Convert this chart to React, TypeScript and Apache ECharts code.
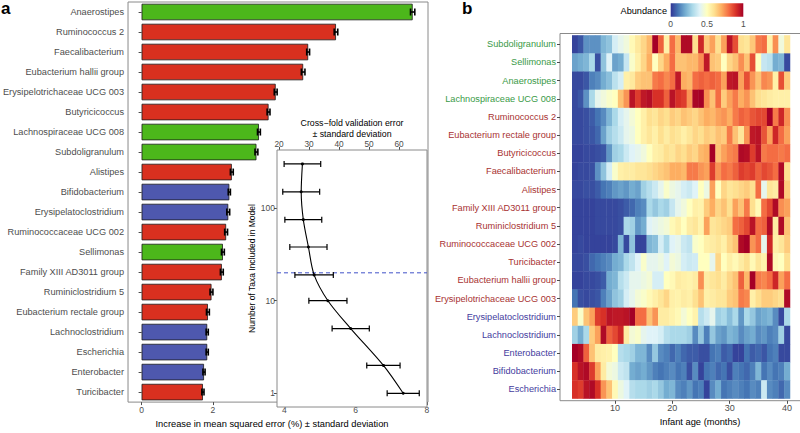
import React, { useEffect, useRef } from 'react';
import * as echarts from 'echarts';

const FONT = '"Liberation Sans", Arial, Helvetica, sans-serif';

// ---------- Panel a: variable importance ----------
const taxaBar = [
  'Anaerostipes', 'Ruminococcus 2', 'Faecalibacterium', 'Eubacterium hallii group',
  'Erysipelotrichaceae UCG 003', 'Butyricicoccus', 'Lachnospiraceae UCG 008', 'Subdoligranulum',
  'Alistipes', 'Bifidobacterium', 'Erysipelatoclostridium', 'Ruminococcaceae UCG 002',
  'Sellimonas', 'Family XIII AD3011 group', 'Ruminiclostridium 5', 'Eubacterium rectale group',
  'Lachnoclostridium', 'Escherichia', 'Enterobacter', 'Turicibacter',
];
const importance = [7.6, 5.45, 4.67, 4.53, 3.76, 3.56, 3.29, 3.22, 2.53, 2.46, 2.43, 2.37, 2.28, 2.25, 1.96, 1.86, 1.84, 1.84, 1.75, 1.72];
const importanceSd = [0.06, 0.05, 0.04, 0.05, 0.04, 0.04, 0.04, 0.04, 0.04, 0.03, 0.04, 0.04, 0.04, 0.04, 0.04, 0.04, 0.03, 0.03, 0.03, 0.03];
const barGroup = ['g', 'r', 'r', 'r', 'r', 'r', 'g', 'g', 'r', 'b', 'b', 'r', 'g', 'r', 'r', 'r', 'b', 'b', 'b', 'r'];
const barTicks = [0, 2, 4, 6, 8];

// ---------- Inset: cross-validation ----------
const nTaxa = [300, 150, 75, 38, 19, 10, 5, 2, 1];
const cvError = [27.8, 27.4, 28.1, 29.8, 31.7, 36.3, 43.9, 54.8, 61.4];
const cvErrorSd = [6.1, 6.15, 6.15, 6.2, 6.4, 6.35, 6.2, 5.55, 5.35];
const cvTicks = [20, 30, 40, 50, 60];
const taxaTicks = [1, 10, 100];
const selectedTaxa = 20;
const cvRange = [19.33, 69.33];

// ---------- Panel b: heatmap ----------
const heatTaxa = [
  'Subdoligranulum', 'Sellimonas', 'Anaerostipes', 'Lachnospiraceae UCG 008', 'Ruminococcus 2',
  'Eubacterium rectale group', 'Butyricicoccus', 'Faecalibacterium', 'Alistipes', 'Family XIII AD3011 group',
  'Ruminiclostridium 5', 'Ruminococcaceae UCG 002', 'Turicibacter', 'Eubacterium hallii group',
  'Erysipelotrichaceae UCG 003', 'Erysipelatoclostridium', 'Lachnoclostridium', 'Enterobacter',
  'Bifidobacterium', 'Escherichia',
];
const heatGroup = ['g', 'g', 'g', 'g', 'r', 'r', 'r', 'r', 'r', 'r', 'r', 'r', 'r', 'r', 'r', 'b', 'b', 'b', 'b', 'b'];
const months = [3, 4, 5, 6, 7, 8, 9, 10, 11, 12, 13, 14, 15, 16, 17, 18, 19, 20, 21, 22, 23, 24, 25, 26, 27, 28, 29, 30, 31, 32, 33, 34, 35, 36, 37, 38, 39, 40];
const ageTicks = [10, 20, 30, 40];
const abundance = [
  [0.02,0.05,0.15,0.15,0.15,0.22,0.25,0.38,0.42,0.45,0.52,0.57,0.62,0.68,1.0,0.82,0.55,0.8,0.68,0.98,0.98,0.6,0.92,0.65,0.72,0.6,0.72,0.96,0.85,0.6,0.58,0.65,0.78,0.8,0.55,0.75,0.45,0.58],
  [0.18,0.2,0.22,0.3,0.04,0.25,0.4,0.18,0.2,0.35,0.48,0.55,0.62,0.7,0.5,0.62,0.7,0.8,0.66,0.66,0.68,0.68,0.75,0.95,0.66,0.64,0.5,0.62,0.66,0.75,0.66,0.85,0.5,0.35,0.33,0.2,0.22,0.03],
  [0.03,0.03,0.05,0.12,0.14,0.2,0.24,0.33,0.38,0.55,0.57,0.64,0.66,0.66,0.78,0.8,0.76,0.8,0.95,0.7,0.68,0.8,0.82,0.8,0.82,0.8,0.72,0.95,0.96,0.72,0.85,0.74,0.66,0.76,0.74,0.55,0.85,0.64],
  [0.03,0.05,0.15,0.3,0.42,0.45,0.48,0.5,0.66,0.74,0.96,0.88,0.95,0.97,0.9,0.9,0.82,0.96,0.9,0.88,0.74,0.99,1.0,0.75,0.66,0.8,0.64,0.72,0.78,0.7,0.74,0.66,0.6,0.58,0.56,0.55,0.55,0.55],
  [0.03,0.03,0.04,0.06,0.1,0.14,0.22,0.3,0.38,0.42,0.46,0.5,0.55,0.6,0.58,0.62,0.6,0.64,0.62,0.66,0.64,0.62,0.66,0.7,0.68,0.72,0.74,0.7,0.78,0.82,0.8,0.84,0.86,0.86,1.0,0.78,0.92,0.75],
  [0.03,0.03,0.04,0.05,0.08,0.18,0.28,0.32,0.36,0.42,0.44,0.5,0.55,0.58,0.55,0.6,0.56,0.6,0.58,0.55,0.58,0.62,0.6,0.64,0.62,0.66,0.64,0.78,0.66,0.58,0.74,0.95,0.96,0.84,0.72,0.92,0.8,0.72],
  [0.02,0.02,0.03,0.03,0.04,0.05,0.16,0.28,0.3,0.36,0.4,0.42,0.45,0.5,0.55,0.56,0.6,0.58,0.62,0.6,0.64,0.62,0.68,0.7,1.0,0.66,0.72,0.76,0.78,0.98,0.97,0.88,0.96,0.78,0.8,0.8,0.78,0.8],
  [0.02,0.03,0.03,0.04,0.15,0.25,0.38,0.48,0.55,0.56,0.56,0.58,0.58,0.6,0.62,0.64,0.66,0.7,0.7,0.68,0.78,0.78,0.74,0.72,0.88,0.74,0.8,0.78,0.82,0.88,0.86,0.88,0.82,0.86,0.84,0.8,0.98,0.6],
  [0.03,0.03,0.04,0.04,0.06,0.1,0.12,0.16,0.18,0.16,0.2,0.18,0.28,0.32,0.36,0.42,0.48,0.44,0.42,0.38,0.36,0.4,0.5,0.44,0.72,0.5,0.62,0.58,0.6,0.62,0.64,0.6,0.8,0.42,0.58,0.56,0.98,0.64],
  [0.02,0.02,0.02,0.02,0.03,0.03,0.03,0.03,0.04,0.06,0.08,0.12,0.14,0.3,0.26,0.3,0.28,0.35,0.42,0.45,0.5,0.55,0.54,0.64,0.7,0.62,0.66,0.6,0.72,0.66,0.78,0.6,0.52,0.8,0.86,0.98,0.75,0.72],
  [0.02,0.02,0.02,0.02,0.03,0.03,0.03,0.03,0.04,0.3,0.28,0.16,0.2,0.4,0.42,0.44,0.46,0.52,0.55,0.5,0.56,0.58,0.54,0.72,0.58,0.6,0.62,0.64,0.8,0.82,0.86,0.96,0.8,0.82,0.98,0.56,0.98,0.66],
  [0.02,0.03,0.02,0.02,0.02,0.02,0.02,0.03,0.22,0.03,0.25,0.02,0.02,0.22,0.24,0.38,0.3,0.4,0.42,0.36,0.34,0.48,0.5,0.55,0.56,0.58,0.55,0.62,0.66,0.98,1.0,0.74,0.8,0.42,0.92,0.55,0.58,0.64],
  [0.03,0.03,0.04,0.08,0.1,0.12,0.14,0.2,0.22,0.3,0.34,0.4,0.48,0.42,0.42,0.44,0.4,0.46,0.44,0.38,0.36,0.37,0.5,0.5,0.42,0.62,0.5,0.55,0.52,0.56,0.6,0.52,0.58,0.54,0.98,0.52,0.5,0.6],
  [0.02,0.02,0.03,0.03,0.04,0.06,0.2,0.22,0.32,0.36,0.42,0.42,0.44,0.46,0.38,0.38,0.5,0.52,0.56,0.55,0.54,0.56,0.75,0.56,0.58,0.6,0.56,0.62,0.66,0.82,0.68,1.0,0.78,0.76,0.8,0.92,0.72,0.8],
  [0.1,0.04,0.03,0.04,0.05,0.12,0.18,0.25,0.28,0.38,0.42,0.46,0.48,0.52,0.55,0.58,0.62,0.55,0.54,0.56,0.55,0.6,0.66,0.55,0.56,0.58,0.58,0.64,0.66,0.78,0.76,0.55,0.6,0.64,0.64,0.62,0.6,0.98],
  [0.64,0.48,0.66,0.72,0.88,0.9,0.96,0.95,0.95,0.96,1.0,0.8,0.8,0.66,0.74,0.56,0.56,0.54,0.52,0.46,0.5,0.54,0.32,0.36,0.42,0.28,0.3,0.24,0.3,0.16,0.3,0.26,0.18,0.2,0.22,0.14,0.03,0.3],
  [0.28,0.2,0.3,0.64,0.72,0.98,0.82,0.86,0.92,0.56,0.46,0.48,0.42,0.4,0.4,0.38,0.32,0.3,0.3,0.3,0.28,0.14,0.26,0.12,0.26,0.18,0.16,0.22,0.2,0.14,0.18,0.2,0.14,0.16,0.12,0.14,0.28,0.03],
  [1.0,0.98,0.82,0.66,0.56,0.55,0.54,0.5,0.32,0.3,0.28,0.22,0.22,0.14,0.26,0.14,0.12,0.08,0.12,0.08,0.06,0.06,0.04,0.04,0.1,0.12,0.06,0.08,0.02,0.02,0.1,0.06,0.08,0.05,0.1,0.12,0.03,0.03],
  [0.9,0.96,0.98,0.88,0.72,0.56,0.46,0.44,0.36,0.34,0.2,0.18,0.2,0.16,0.12,0.1,0.12,0.14,0.1,0.12,0.04,0.14,0.02,0.1,0.12,0.08,0.1,0.04,0.12,0.1,0.08,0.12,0.22,0.1,0.14,0.1,0.12,0.2],
  [0.9,0.88,0.96,0.98,0.9,0.74,0.66,0.52,0.44,0.4,0.32,0.3,0.3,0.28,0.3,0.26,0.2,0.22,0.14,0.12,0.16,0.1,0.12,0.02,0.14,0.2,0.1,0.12,0.14,0.12,0.1,0.14,0.12,0.36,0.14,0.12,0.08,0.14],
];
const legendTicks = [0, 0.5, 1];

const palette = ['#313695', '#4575b4', '#74add1', '#abd9e9', '#e0f3f8', '#ffffbf', '#fee090', '#fdae61', '#f46d43', '#d73027', '#a50026'];
const barColors: Record<string, string> = { g: '#4cb71b', r: '#d9301f', b: '#4e58ae' };
const labelColors: Record<string, string> = { g: '#3a9a47', r: '#a83232', b: '#443c9e' };

const GREY = '#4d4d4d';
const FRAME = '#8a8a8a';

function buildOption() {
  const heatData: number[][] = [];
  abundance.forEach((row, r) => row.forEach((v, c) => heatData.push([months[c], r, v])));

  const errRender = (capH: number, lw: number) => (params: any, api: any) => {
    const v = api.value(0);
    const sd = api.value(1);
    const y = api.value(2);
    const a = api.coord([v - sd, y]);
    const b = api.coord([v + sd, y]);
    const st = { stroke: '#000', lineWidth: lw };
    return {
      type: 'group',
      children: [
        { type: 'line', shape: { x1: a[0], y1: a[1], x2: b[0], y2: b[1] }, style: st },
        { type: 'line', shape: { x1: a[0], y1: a[1] - capH / 2, x2: a[0], y2: a[1] + capH / 2 }, style: st },
        { type: 'line', shape: { x1: b[0], y1: b[1] - capH / 2, x2: b[0], y2: b[1] + capH / 2 }, style: st },
      ],
    };
  };

  const xLeg0 = 670.7;
  const legW = 72.6;

  return {
    animation: false,
    backgroundColor: '#fff',
    textStyle: { fontFamily: FONT },
    grid: [
      { left: 127.5, top: 2, width: 300.5, height: 408, show: true, borderColor: FRAME, borderWidth: 1, backgroundColor: 'transparent' },
      { left: 277, top: 150, width: 150, height: 257, show: true, borderColor: FRAME, borderWidth: 1, backgroundColor: '#fff', z: 3 },
      { left: 560, top: 35.2, width: 240, height: 363.2, show: false },
    ],
    xAxis: [
      {
        gridIndex: 0, type: 'value', min: -0.38, max: 8.03,
        axisLine: { show: false }, splitLine: { show: false },
        axisTick: { show: true, length: 3, lineStyle: { color: GREY }, customValues: barTicks },
        axisLabel: { fontSize: 8.5, color: GREY, margin: 3, customValues: barTicks },
        name: 'Increase in mean squared error (%) \u00b1 standard deviation',
        nameLocation: 'middle', nameGap: 13,
        nameTextStyle: { fontSize: 9.3, color: '#000', fontFamily: FONT, padding: [0, 12, 0, 0] },
      },
      {
        gridIndex: 1, type: 'value', position: 'top', min: cvRange[0], max: cvRange[1],
        axisLine: { show: false }, splitLine: { show: false },
        axisTick: { show: true, length: 3, lineStyle: { color: GREY }, customValues: cvTicks },
        axisLabel: { fontSize: 8.3, color: GREY, margin: 2, customValues: cvTicks },
        name: 'Cross\u2212fold validation error\n\u00b1 standard deviation',
        nameLocation: 'middle', nameGap: 11, nameMoveOverlap: false,
        nameTextStyle: { fontSize: 8.8, lineHeight: 10.5, color: '#000', fontFamily: FONT },
      },
      {
        gridIndex: 2, type: 'value', min: 0.41, max: 42.27, offset: 2.4,
        axisLine: { show: false }, splitLine: { show: false },
        axisTick: { show: true, length: 3, lineStyle: { color: GREY }, customValues: ageTicks },
        axisLabel: { fontSize: 9, color: GREY, margin: 3, customValues: ageTicks },
        name: 'Infant age (months)', nameLocation: 'middle', nameGap: 14,
        nameTextStyle: { fontSize: 9.3, color: '#000', fontFamily: FONT, padding: [0, 0, 0, 40] },
      },
    ],
    yAxis: [
      {
        gridIndex: 0, type: 'category', inverse: true, data: taxaBar,
        axisLine: { show: false }, splitLine: { show: false },
        axisTick: { show: true, length: 3, alignWithLabel: true, lineStyle: { color: GREY } },
        axisLabel: { fontSize: 9.2, color: GREY, margin: 4 },
      },
      {
        gridIndex: 1, type: 'log', logBase: 10, min: 0.711, max: 424,
        axisLine: { show: false }, splitLine: { show: false }, minorTick: { show: false },
        axisTick: { show: true, length: 3, lineStyle: { color: GREY }, customValues: taxaTicks },
        axisLabel: { fontSize: 8.5, color: GREY, margin: 2, customValues: taxaTicks },
        name: 'Number of Taxa Included in Model', nameLocation: 'middle', nameGap: 18,
        nameTextStyle: { fontSize: 8.5, color: '#000', fontFamily: FONT, padding: [0, 0, 0, 20] },
      },
      {
        gridIndex: 2, type: 'category', inverse: true, data: heatTaxa,
        axisLine: { show: false }, splitLine: { show: false },
        axisTick: { show: true, length: 3, alignWithLabel: true, lineStyle: { color: GREY } },
        axisLabel: {
          margin: 4,
          formatter: (v: string) => `{${heatGroup[heatTaxa.indexOf(v)]}|${v}}`,
          rich: {
            g: { color: labelColors.g, fontSize: 9.2, fontFamily: FONT },
            r: { color: labelColors.r, fontSize: 9.2, fontFamily: FONT },
            b: { color: labelColors.b, fontSize: 9.2, fontFamily: FONT },
          },
        },
      },
    ],
    visualMap: {
      type: 'continuous', show: false, min: 0, max: 1, dimension: 2, seriesIndex: 5,
      inRange: { color: palette },
    },
    series: [
      {
        type: 'bar', xAxisIndex: 0, yAxisIndex: 0, barWidth: 16.5,
        data: importance.map((v, i) => ({ value: v, itemStyle: { color: barColors[barGroup[i]] } })),
        itemStyle: { borderColor: '#1a1a1a', borderWidth: 0.8 },
      },
      {
        type: 'custom', xAxisIndex: 0, yAxisIndex: 0, z: 4,
        data: importance.map((v, i) => [v, importanceSd[i], i]),
        encode: { x: 0, y: 2 },
        renderItem: errRender(7, 1.6),
      },
      {
        type: 'line', xAxisIndex: 1, yAxisIndex: 1, z: 4, silent: true,
        data: [[cvRange[0], selectedTaxa], [cvRange[1], selectedTaxa]],
        symbol: 'none',
        lineStyle: { color: '#4152c8', type: [4, 3], width: 1 },
      },
      {
        type: 'line', xAxisIndex: 1, yAxisIndex: 1, z: 5,
        data: cvError.map((x, i) => [x, nTaxa[i]]),
        smooth: 0.3, symbol: 'circle', symbolSize: 3,
        lineStyle: { color: '#000', width: 1.1 }, itemStyle: { color: '#000' },
      },
      {
        type: 'custom', xAxisIndex: 1, yAxisIndex: 1, z: 5,
        data: cvError.map((x, i) => [x, cvErrorSd[i], nTaxa[i]]),
        encode: { x: 0, y: 2 },
        renderItem: errRender(6, 1.2),
      },
      {
        type: 'custom', xAxisIndex: 2, yAxisIndex: 2,
        data: heatData,
        encode: { x: 0, y: 1 },
        renderItem: (params: any, api: any) => {
          const x = api.value(0);
          const r = api.value(1);
          const a = api.coord([x - 0.5, r]);
          const b = api.coord([x + 0.5, r]);
          const h = api.size([0, 1])[1];
          return {
            type: 'rect',
            shape: { x: a[0], y: a[1] - h / 2, width: b[0] - a[0] + 0.4, height: h + 0.4 },
            style: { fill: api.visual('color') },
          };
        },
      },
    ],
    graphic: [
      { type: 'text', x: 1, y: 0, style: { text: 'a', fontSize: 17, fontWeight: 'bold', fill: '#000', fontFamily: FONT } },
      { type: 'text', x: 462, y: 0, style: { text: 'b', fontSize: 17, fontWeight: 'bold', fill: '#000', fontFamily: FONT } },
      {
        type: 'rect', silent: true,
        shape: { x: 560, y: 33.5, width: 300, height: 367.2 },
        style: { fill: 'none', stroke: FRAME, lineWidth: 1 },
      },
      { type: 'text', x: 667, y: 10.5, style: { text: 'Abundance', fontSize: 9.2, fill: '#000', align: 'right', verticalAlign: 'middle', fontFamily: FONT } },
      {
        type: 'rect', shape: { x: xLeg0, y: 3.3, width: legW, height: 13.4 },
        style: {
          fill: {
            type: 'linear', x: 0, y: 0, x2: 1, y2: 0,
            colorStops: palette.map((c, i) => ({ offset: i / (palette.length - 1), color: c })),
          },
        },
      },
      ...legendTicks.map((t) => ({
        type: 'text', x: xLeg0 + t * legW, y: 23.5,
        style: { text: String(t), fontSize: 8.5, fill: GREY, align: 'center', verticalAlign: 'middle', fontFamily: FONT },
      })),
    ],
  };
}

export default function App() {
  const ref = useRef<HTMLDivElement>(null);
  useEffect(() => {
    if (!ref.current) return;
    const chart = echarts.init(ref.current, null, { renderer: 'svg' });
    chart.setOption(buildOption() as any);
    return () => chart.dispose();
  }, []);
  return (
    <div
      ref={ref}
      style={{ position: 'fixed', left: 0, top: 0, width: 800, height: 433, background: '#fff' }}
    />
  );
}
